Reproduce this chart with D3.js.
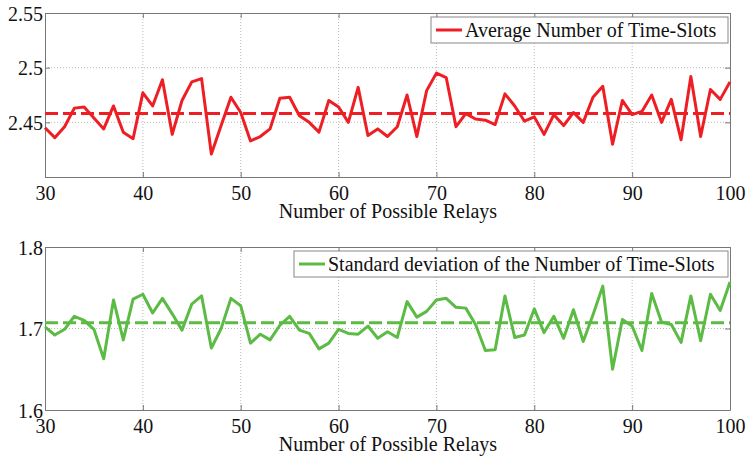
<!DOCTYPE html>
<meta charset="utf-8">
<style>
body { margin: 0; background: #fff; }
text { font-family: "Liberation Serif", "Times New Roman", serif; fill: #111; }
</style>
<svg width="746" height="458"></svg>
<script src="https://d3js.org/d3.v7.min.js"></script>
<script>

// number of possible relays (x axis)
var relays = [30,31,32,33,34,35,36,37,38,39,40,41,42,43,44,45,46,47,48,49,
  50,51,52,53,54,55,56,57,58,59,60,61,62,63,64,65,66,67,68,69,
  70,71,72,73,74,75,76,77,78,79,80,81,82,83,84,85,86,87,88,89,
  90,91,92,93,94,95,96,97,98,99,100];

// average number of time-slots
var avgSlots = [2.445,2.436,2.446,2.463,2.464,2.454,2.444,2.465,2.441,2.435,
  2.477,2.465,2.489,2.439,2.470,2.487,2.490,2.421,2.447,2.473,
  2.459,2.433,2.437,2.444,2.472,2.473,2.456,2.450,2.441,2.470,
  2.464,2.450,2.482,2.438,2.444,2.437,2.446,2.475,2.437,2.479,
  2.495,2.491,2.446,2.458,2.453,2.452,2.448,2.476,2.465,2.451,
  2.455,2.439,2.457,2.447,2.459,2.450,2.473,2.483,2.430,2.470,
  2.457,2.460,2.475,2.450,2.471,2.434,2.492,2.437,2.480,2.471,
  2.487];
var avgMean = 2.458;

// standard deviation of the number of time-slots
var stdSlots = [1.702,1.692,1.699,1.715,1.710,1.699,1.663,1.735,1.686,1.736,
  1.742,1.719,1.737,1.718,1.698,1.730,1.740,1.676,1.700,1.737,
  1.728,1.682,1.693,1.686,1.704,1.715,1.698,1.694,1.675,1.682,
  1.699,1.694,1.693,1.703,1.688,1.696,1.689,1.733,1.714,1.721,
  1.735,1.737,1.726,1.725,1.705,1.673,1.674,1.740,1.689,1.692,
  1.724,1.695,1.715,1.688,1.723,1.684,1.717,1.752,1.650,1.711,
  1.703,1.673,1.743,1.708,1.705,1.683,1.740,1.685,1.742,1.722,
  1.757];
var stdMean = 1.707;

var xTicks = [30,40,50,60,70,80,90,100];
var avgTicks = [2.4,2.45,2.5,2.55];
var avgTickLabels = ["","2.45","2.5","2.55"];
var stdTicks = [1.6,1.7,1.8];
var stdTickLabels = ["1.6","1.7","1.8"];

var svg = d3.select("svg");
var fs = 20;

function panel(o) {
  var x = d3.scaleLinear().domain([30, 100]).range([45, 730]);
  var y = d3.scaleLinear().domain(o.domain).range([o.bottom, o.top]);
  var g = svg.append("g");

  // dotted grid
  g.selectAll(".gx").data(xTicks.slice(1, -1)).enter().append("line")
      .attr("x1", function(d) { return x(d); }).attr("x2", function(d) { return x(d); })
      .attr("y1", o.top).attr("y2", o.bottom)
      .attr("stroke", "#aaa").attr("stroke-width", 0.8).attr("stroke-dasharray", "1,2");
  g.selectAll(".gy").data(o.ticks.slice(1, -1)).enter().append("line")
      .attr("x1", 45).attr("x2", 730)
      .attr("y1", function(d) { return y(d); }).attr("y2", function(d) { return y(d); })
      .attr("stroke", "#aaa").attr("stroke-width", 0.8).attr("stroke-dasharray", "1,2");

  // axes (matlab style, ticks inside)
  g.append("g").attr("transform", "translate(0," + o.bottom + ")")
      .call(d3.axisBottom(x).tickValues(xTicks).tickSizeInner(-5).tickSizeOuter(0).tickPadding(9));
  var ay = g.append("g").attr("transform", "translate(45,0)")
      .call(d3.axisLeft(y).tickValues(o.ticks).tickSizeInner(-5).tickSizeOuter(0).tickPadding(2)
        .tickFormat(function(d, i) { return o.labels[i]; }));
  g.append("g").attr("transform", "translate(0," + o.top + ")")
      .call(d3.axisTop(x).tickValues(xTicks).tickSizeInner(-5).tickSizeOuter(0).tickFormat(""));
  g.append("g").attr("transform", "translate(730,0)")
      .call(d3.axisRight(y).tickValues(o.ticks).tickSizeInner(-5).tickSizeOuter(0).tickFormat(""));
  g.selectAll(".domain, .tick line").attr("stroke", "#777");
  g.selectAll(".tick text").attr("font-size", fs).attr("fill", "#111")
      .style("font-family", "Liberation Serif");
  ay.selectAll(".tick text").attr("dy", "0.35em");

  g.append("text").attr("x", 388).attr("y", o.bottom + 41)
      .attr("text-anchor", "middle").attr("font-size", fs)
      .text("Number of Possible Relays");

  // mean line
  g.append("line").attr("x1", 45).attr("x2", 730)
      .attr("y1", y(o.mean)).attr("y2", y(o.mean))
      .attr("stroke", o.color).attr("stroke-width", 3).attr("stroke-dasharray", "13,5");

  var line = d3.line().x(function(d, i) { return x(relays[i]); }).y(function(d) { return y(d); });
  g.append("path").datum(o.values).attr("d", line)
      .attr("fill", "none").attr("stroke", o.color).attr("stroke-width", 3)
      .attr("stroke-linejoin", "round");

  // legend
  var lg = g.append("g");
  lg.append("rect").attr("x", o.lx).attr("y", o.top + 4).attr("width", 728 - o.lx).attr("height", 26)
      .attr("fill", "#fff").attr("stroke", "#888");
  lg.append("line").attr("x1", o.lx + 5).attr("x2", o.lx + 31)
      .attr("y1", o.top + 17).attr("y2", o.top + 17)
      .attr("stroke", o.color).attr("stroke-width", 3);
  lg.append("text").attr("x", o.lx + 34).attr("y", o.top + 23.5).attr("font-size", fs)
      .text(o.name);
}

panel({ top: 13, bottom: 177, domain: [2.4, 2.55], ticks: avgTicks, labels: avgTickLabels,
  values: avgSlots, mean: avgMean, color: "#ee1f24", lx: 431,
  name: "Average Number of Time-Slots" });
panel({ top: 247, bottom: 410, domain: [1.6, 1.8], ticks: stdTicks, labels: stdTickLabels,
  values: stdSlots, mean: stdMean, color: "#5cbb44", lx: 294,
  name: "Standard deviation of the Number of Time-Slots" });

</script>
